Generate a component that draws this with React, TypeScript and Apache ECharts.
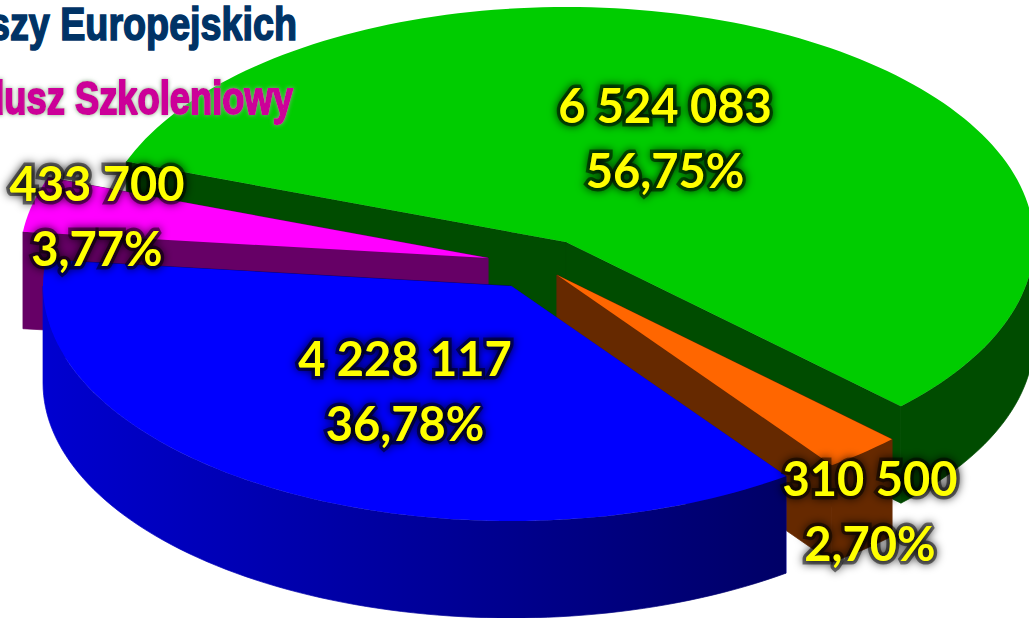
import React, { useEffect, useRef } from "react";
import * as echarts from "echarts";

const sliceNames = ["Green", "Magenta", "Orange", "Blue"];
const sliceValues = [6524083, 433700, 310500, 4228117];
const percentLabels = ["56,75%", "3,77%", "2,70%", "36,78%"];
const valueLabels = ["6 524 083", "433 700", "310 500", "4 228 117"];
const topColors = ["#00CC00", "#FF00FF", "#FF6600", "#0000FF"];
const sideColors = ["#004C00", "#660066", "#662900", "#000066"];
const rimLeftColors = ["#004C00", "#660066", "#662900", "#0000D0"];
const titleTexts = ["Funduszy Europejskich", "Fundusz Szkoleniowy"];

// layout of the exploded, flattened pie
const RX = 468;
const RY = 235;
const DEPTH = 97;
const sliceCentres = [
  [566, 242],
  [488, 258],
  [557, 275],
  [511, 286],
];
const labelCentres = [
  [665, 137],
  [97, 215],
  [870, 510],
  [405, 390],
];

const total = sliceValues.reduce((a, b) => a + b, 0);
// Screen-order angles in degrees, clockwise (y down); green ends at +44.3 deg.
const greenEnd = 44.3;
const spans = sliceValues.map((v) => (v / total) * 360);
const starts: number[] = [];
{
  let cursor = greenEnd - spans[0];
  starts[0] = cursor;
  cursor -= spans[1];
  starts[1] = cursor;
  cursor -= spans[3];
  starts[3] = cursor;
  cursor -= spans[2];
  starts[2] = cursor;
}

function rimPoint(c: number[], deg: number, dy = 0) {
  const a = (deg * Math.PI) / 180;
  return [c[0] + RX * Math.cos(a), c[1] + RY * Math.sin(a) + dy];
}

function arcPoints(c: number[], from: number, to: number, dy = 0) {
  const n = Math.max(4, Math.ceil(Math.abs(to - from) / 1.5));
  const pts: number[][] = [];
  for (let i = 0; i <= n; i++) pts.push(rimPoint(c, from + ((to - from) * i) / n, dy));
  return pts;
}

// The part of a slice's outer rim that faces the viewer (angles 0..180 and 360..540).
function frontRange(from: number, span: number): number[] | null {
  const s = from - Math.floor(from / 360) * 360;
  const e = s + span;
  if (s < 180) return [s, Math.min(e, 180)];
  if (e > 360) return [360, e];
  return null;
}

function renderSlice(params: any, api: any) {
  const i = api.value(0);
  const c = sliceCentres[i];
  const from = starts[i];
  const to = from + spans[i];
  const side = sideColors[i];
  const tip = c;
  const tipLow = [c[0], c[1] + DEPTH];
  const a = rimPoint(c, from);
  const b = rimPoint(c, to);
  const rimFill = () =>
    new echarts.graphic.LinearGradient(0, 0, 1, 0, [
      { offset: 0, color: rimLeftColors[i] },
      { offset: 1, color: side },
    ]);
  const children: any[] = [
    {
      type: "polygon",
      silent: true,
      shape: { points: [tip, a, [a[0], a[1] + DEPTH], tipLow] },
      style: { fill: rimLeftColors[i], stroke: rimLeftColors[i], lineWidth: 0.7 },
    },
    {
      type: "polygon",
      silent: true,
      shape: { points: [tip, b, [b[0], b[1] + DEPTH], tipLow] },
      style: { fill: side, stroke: side, lineWidth: 0.7 },
    },
  ];
  const front = frontRange(from, spans[i]);
  if (front) {
    children.push({
      type: "polygon",
      silent: true,
      shape: { points: [...arcPoints(c, front[0], front[1]), ...arcPoints(c, front[1], front[0], DEPTH)] },
      style: { fill: rimFill(), stroke: rimFill(), lineWidth: 0.7 },
    });
  }
  children.push({
    type: "polygon",
    silent: true,
    shape: { points: [tip, ...arcPoints(c, from, to)] },
    style: { fill: topColors[i] },
  });
  return { type: "group", children };
}

function renderLabel(params: any, api: any) {
  const i = api.value(0);
  const p = labelCentres[i];
  return {
    type: "text",
    silent: true,
    style: {
      text: valueLabels[i] + "\n" + percentLabels[i],
      x: p[0],
      y: p[1],
      align: "center",
      verticalAlign: "middle",
      fill: "#FFFF00",
      fontFamily: "Lato",
      fontWeight: "bold",
      fontSize: 47,
      lineHeight: 65,
      stroke: "rgba(0,0,0,0.5)",
      lineWidth: 7,
      textShadowColor: "#000000",
      textShadowBlur: 10,
    },
  };
}

export default function App() {
  const ref = useRef<HTMLDivElement>(null);
  useEffect(() => {
    document.body.style.margin = "0";
    document.body.style.background = "#fff";
    const chart = echarts.init(ref.current!, undefined, { renderer: "svg" });
    const data = sliceNames.map((name, i) => ({ name, value: [i, sliceValues[i]] }));
    chart.setOption({
      animation: false,
      backgroundColor: "#FFFFFF",
      graphic: [
        {
          type: "text",
          z: 30,
          x: 297,
          y: 47,
          scaleX: 0.82,
          silent: true,
          style: {
            text: titleTexts[0],
            align: "right",
            verticalAlign: "bottom",
            fill: "#003366",
            fontFamily: "Liberation Sans",
            fontWeight: "bold",
            fontSize: 46,
            stroke: "#003366",
            lineWidth: 1.6,
          },
        },
        {
          type: "text",
          z: 30,
          x: 293,
          y: 121,
          scaleX: 0.79,
          silent: true,
          style: {
            text: titleTexts[1],
            align: "right",
            verticalAlign: "bottom",
            fill: "#CC0099",
            fontFamily: "Liberation Sans",
            fontWeight: "bold",
            fontSize: 46,
            stroke: "#CC0099",
            lineWidth: 2,
            textShadowColor: "#88aa88",
            textShadowBlur: 4,
          },
        },
      ],
      series: [
        { type: "custom", coordinateSystem: "none", z: 2, renderItem: renderSlice, data, encode: { value: [1] } },
        { type: "custom", coordinateSystem: "none", z: 10, renderItem: renderLabel, data, encode: { value: [1] } },
      ],
    });
    return () => chart.dispose();
  }, []);
  return <div ref={ref} style={{ width: 1029, height: 618 }} />;
}
